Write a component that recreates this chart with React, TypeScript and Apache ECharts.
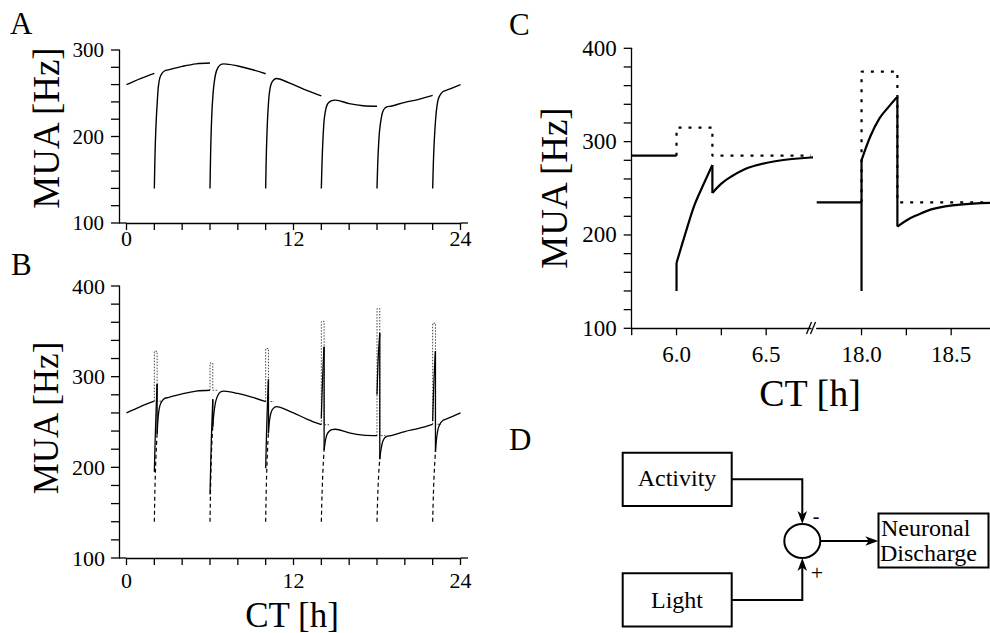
import React, { useEffect, useRef } from "react";
import * as echarts from "echarts";

const FONT = "'Liberation Serif', 'Times New Roman', serif";

// Circadian baseline of the multi-unit activity (CT in hours, MUA in Hz)
const circadianCT = [0, 1, 2, 3, 4, 5, 6, 7, 8, 9, 10, 11, 12, 13, 14, 15, 16, 17, 18, 19, 20, 21, 22, 23, 24];
const circadianMUA = [260, 267, 273, 277, 281, 284, 285, 284, 281.5, 277.5, 272.5, 266.5, 260, 253, 247, 242, 238, 235.5, 235, 236.5, 239.5, 243, 247.5, 253.5, 260];

// Light pulses (onset in CT hours) and the response around each of them
const pulseCT = [2, 6, 10, 14, 18, 22];
const pulseBase = [273, 285, 272.5, 247, 235, 247.5];
const lightTop = [328, 315, 331, 361, 375, 359];

// Hours after pulse onset, during the 0.2 h light pulse
const lightOffsets = [0, 0.05, 0.1, 0.15, 0.2];
// Combined discharge while the light is on
const lightRise = [
  [195, 225, 250, 273, 292],
  [170, 202, 232, 254, 275],
  [199, 230, 257, 279, 297],
  [254, 280, 301, 319, 333],
  [280, 306, 325, 337, 348],
  [251, 277, 298, 315, 328],
];
// Activity-only component while the light is on
const activityDip = [
  [140, 180, 205, 223, 237],
  [140, 185, 213, 232, 245],
  [140, 181, 206, 225, 238],
  [140, 170, 191, 207, 219],
  [140, 167, 186, 200, 209],
  [140, 169, 190, 205, 217],
];
// Hours after pulse onset, recovery after lights-off
const recoveryOffsets = [0.2, 0.25, 0.3, 0.4, 0.55, 0.75, 1.0];
const recovery = [
  [237, 250, 259, 268, 273, 276, 277],
  [245, 255, 262, 272, 279, 283, 284],
  [238, 248, 254, 261, 265, 267, 266.5],
  [219, 225, 230, 236, 239.5, 241.5, 242],
  [209, 215.5, 220.5, 228, 232.5, 234.5, 235],
  [217, 227, 234, 243, 248.5, 252, 253.5],
];

// Axis ranges and label steps
const ctRange = [0, 24];
const ctTickStep = 2;
const ctLabelStep = 12;
const muaTickStep = 20;
const muaLabelStep = 100;
const zoomWindows = [[5.75, 6.75], [17.75, 18.75]];
const zoomPulses = [1, 4];
const zoomTickStep = 0.25;
const zoomLabelStep = 0.5;
const zoomTickValues = [[5.75, 6, 6.25, 6.5], [18, 18.25, 18.5]];

const PULSE_LEN = lightOffsets[lightOffsets.length - 1];
const Y_OFFSET_AB = 7.5;

const curve = (t0: number, offs: number[], vals: number[]) => offs.map((o, k) => [t0 + o, vals[k]]);
const baselineBetween = (from: number, to: number, inclusiveFrom = false) =>
  circadianCT
    .map((t, i) => [t, circadianMUA[i]])
    .filter(([t]) => (inclusiveFrom ? t >= from : t > from) && t <= to);
const steps = (from: number, to: number, step: number) => {
  const out: number[] = [];
  for (let k = 0; from + k * step <= to + 1e-9; k++) out.push(from + k * step);
  return out;
};

type Style = { width: number; type?: any; color?: string; smooth?: boolean; z?: number };
const line = (data: number[][], axis: number, s: Style) => ({
  type: "line",
  xAxisIndex: axis,
  yAxisIndex: axis,
  data,
  symbol: "none",
  showSymbol: false,
  smooth: s.smooth ? 0.35 : false,
  silent: true,
  clip: true,
  z: s.z ?? 2,
  lineStyle: { color: s.color ?? "#000", width: s.width, type: s.type ?? "solid", cap: "butt" },
});

function buildSeries() {
  const out: any[] = [];
  // Panel A: activity-only response
  out.push(line(baselineBetween(0, pulseCT[0], true), 0, { width: 1.4, smooth: true }));
  pulseCT.forEach((t, i) => {
    const next = i + 1 < pulseCT.length ? pulseCT[i + 1] : ctRange[1];
    const data = [
      ...curve(t, lightOffsets, activityDip[i]),
      ...curve(t, recoveryOffsets.slice(1), recovery[i].slice(1)),
      ...baselineBetween(t + 1, next),
    ];
    out.push(line(data, 0, { width: 1.4, smooth: true }));
  });

  // Panel B: combined response, light input (dotted), activity input (dashed)
  out.push(line(baselineBetween(0, pulseCT[0], true), 1, { width: 1.3, smooth: true, z: 3 }));
  pulseCT.forEach((t, i) => {
    const next = i + 1 < pulseCT.length ? pulseCT[i + 1] : ctRange[1];
    const end = t + PULSE_LEN;
    out.push(line(curve(t, lightOffsets, activityDip[i]), 1, { width: 1.2, type: [4, 3], smooth: true, z: 2 }));
    out.push(
      line(
        [[t, pulseBase[i]], [t, lightTop[i]], [end, lightTop[i]], [end, pulseBase[i]], [t + 0.6, pulseBase[i]]],
        1,
        { width: 1, type: [1.5, 1.5], color: "#444", z: 1 }
      )
    );
    out.push(line(curve(t, lightOffsets, lightRise[i]), 1, { width: 1.3, smooth: true, z: 3 }));
    out.push(line([[end, lightRise[i][4]], [end, recovery[i][0]]], 1, { width: 1.3, z: 3 }));
    out.push(
      line(
        [...curve(t, recoveryOffsets, recovery[i]), ...baselineBetween(t + 1, next)],
        1,
        { width: 1.3, smooth: true, z: 3 }
      )
    );
  });

  // Panel C: magnified pulses at CT 6 and CT 18
  zoomPulses.forEach((i, w) => {
    const axis = 2 + w;
    const t = pulseCT[i];
    const end = t + PULSE_LEN;
    const [w0, w1] = zoomWindows[w];
    out.push(line([[w0, pulseBase[i]], [t, pulseBase[i]]], axis, { width: 2.2 }));
    out.push(line([[t, activityDip[i][0]], [t, lightRise[i][0]]], axis, { width: 2.2 }));
    out.push(line(curve(t, lightOffsets, lightRise[i]), axis, { width: 2.2, smooth: true }));
    out.push(line([[end, lightRise[i][4]], [end, recovery[i][0]]], axis, { width: 2.2 }));
    out.push(line(curve(t, recoveryOffsets, recovery[i]), axis, { width: 2.2, smooth: true }));
    out.push(
      line(
        [[t, pulseBase[i]], [t, lightTop[i]], [end, lightTop[i]], [end, pulseBase[i]], [w1, pulseBase[i]]],
        axis,
        { width: 2.2, type: [3, 7], z: 1 }
      )
    );
  });
  return out;
}

const isStep = (v: number, step: number) => Math.abs(v / step - Math.round(v / step)) < 1e-6;

function xAxis(grid: number, min: number, max: number, interval: number, labelStep: number, fontSize: number, margin: number, fmt: (v: number) => string) {
  return {
    type: "value",
    gridIndex: grid,
    min,
    max,
    interval,
    axisLine: { show: true, onZero: false, lineStyle: { color: "#000", width: 1.3 } },
    axisTick: { show: false },
    axisLabel: {
      show: true,
      showMinLabel: true,
      showMaxLabel: true,
      hideOverlap: false,
      color: "#000",
      fontFamily: FONT,
      fontSize,
      margin,
      formatter: (v: number) => (isStep(v, labelStep) ? fmt(v) : ""),
    },
    splitLine: { show: false },
  };
}

function yAxis(grid: number, max: number, fontSize: number, margin: number, offset: number, show = true) {
  return {
    type: "value",
    gridIndex: grid,
    show,
    offset,
    min: 100,
    max,
    interval: muaTickStep,
    axisLine: { show: true, onZero: false, lineStyle: { color: "#000", width: 1.3 } },
    axisTick: { show: false },
    axisLabel: {
      show: true,
      showMinLabel: true,
      showMaxLabel: true,
      hideOverlap: false,
      color: "#000",
      fontFamily: FONT,
      fontSize,
      margin,
      formatter: (v: number) => (isStep(v, muaLabelStep) ? String(v) : ""),
    },
    splitLine: { show: false },
  };
}

const txt = (text: string, x: number, y: number, size: number, extra: any = {}) => ({
  type: "text",
  x,
  y,
  rotation: extra.rotation ?? 0,
  silent: true,
  style: {
    text,
    fill: "#000",
    font: `${size}px ${FONT}`,
    align: extra.align ?? "center",
    verticalAlign: "middle",
  },
});

const stroke = () => ({ stroke: "#000", lineWidth: 2, fill: "none" });
const seg = (x1: number, y1: number, x2: number, y2: number, w = 1.3) => ({
  type: "line",
  silent: true,
  shape: { x1, y1, x2, y2 },
  style: { stroke: "#000", lineWidth: w },
});

function buildGraphic() {
  return [
    // panel letters
    txt("A", 10, 23, 31, { align: "left" }),
    txt("B", 11, 264, 31, { align: "left" }),
    txt("C", 509, 24, 31, { align: "left" }),
    txt("D", 509, 439, 31, { align: "left" }),
    // axis titles
    txt("MUA [Hz]", 46, 128, 37, { rotation: Math.PI / 2 }),
    txt("MUA [Hz]", 46, 418, 35, { rotation: Math.PI / 2 }),
    txt("MUA [Hz]", 554, 188, 37, { rotation: Math.PI / 2 }),
    txt("CT [h]", 292, 615, 35),
    txt("CT [h]", 810, 393, 38),
    // axis break marks
    seg(806.5, 334, 811.5, 322),
    seg(810.5, 334, 815.5, 322),
    // block diagram
    { type: "rect", silent: true, shape: { x: 622.7, y: 452.7, width: 109, height: 53.3 }, style: stroke() },
    { type: "rect", silent: true, shape: { x: 622.7, y: 573.3, width: 109, height: 53.3 }, style: stroke() },
    { type: "rect", silent: true, shape: { x: 878.5, y: 513.5, width: 110, height: 54 }, style: stroke() },
    { type: "ellipse", silent: true, shape: { cx: 802.3, cy: 541, rx: 18, ry: 17 }, style: stroke() },
    { type: "polyline", silent: true, shape: { points: [[731.7, 479.3], [802.3, 479.3], [802.3, 516]] }, style: stroke() },
    { type: "polygon", silent: true, shape: { points: [[802.3, 524], [797.5, 511], [802.3, 514.5], [807.1, 511]] }, style: { fill: "#000" } },
    { type: "polyline", silent: true, shape: { points: [[731.7, 600], [802.3, 600], [802.3, 566]] }, style: stroke() },
    { type: "polygon", silent: true, shape: { points: [[802.3, 558], [797.5, 571], [802.3, 567.5], [807.1, 571]] }, style: { fill: "#000" } },
    { type: "polyline", silent: true, shape: { points: [[820.3, 541], [871, 541]] }, style: stroke() },
    { type: "polygon", silent: true, shape: { points: [[878.3, 541], [865.3, 536.2], [868.8, 541], [865.3, 545.8]] }, style: { fill: "#000" } },
    txt("Activity", 677, 478, 24),
    txt("Light", 677, 600, 24),
    txt("-", 816, 516, 20),
    txt("+", 817, 572, 22),
    txt("Neuronal", 881, 528, 24, { align: "left" }),
    txt("Discharge", 880, 553, 24, { align: "left" }),
  ];
}

// Axis ticks and the short axis-line run-outs, placed through the axes' own scales
function buildTicks(chart: any) {
  const px = (axis: number, v: number) => chart.convertToPixel({ xAxisIndex: axis }, v) as number;
  const py = (axis: number, v: number) => chart.convertToPixel({ yAxisIndex: axis }, v) as number;
  const out: any[] = [];
  [0, 1].forEach((a) => {
    const yMax = a === 0 ? 300 : 400;
    const x0 = px(a, ctRange[0]) - Y_OFFSET_AB;
    const y0 = py(a, 100);
    // x axis line runs from the y axis to just past CT 24
    out.push(seg(x0, y0, px(a, ctRange[0]), y0));
    out.push(seg(px(a, ctRange[1]), y0, px(a, ctRange[1]) + Y_OFFSET_AB, y0));
    steps(ctRange[0], ctRange[1], ctTickStep).forEach((v) => out.push(seg(px(a, v), y0, px(a, v), y0 + 7)));
    steps(100, yMax, muaTickStep).forEach((v) => out.push(seg(x0 - 8, py(a, v), x0, py(a, v))));
  });
  [2, 3].forEach((a, w) => {
    const y0 = py(a, 100);
    zoomTickValues[w].forEach((v) => out.push(seg(px(a, v), y0, px(a, v), y0 + 7)));
  });
  const xc = px(2, zoomWindows[0][0]);
  steps(100, 400, muaTickStep).forEach((v) => out.push(seg(xc - 8, py(2, v), xc, py(2, v))));
  return out;
}

export default function App() {
  const ref = useRef<HTMLDivElement>(null);
  useEffect(() => {
    if (!ref.current) return;
    const chart = echarts.init(ref.current, null, { renderer: "svg", width: 990, height: 633 });
    const fmt0 = (v: number) => String(v);
    const fmt1 = (v: number) => v.toFixed(1);
    chart.setOption({
      animation: false,
      backgroundColor: "#fff",
      grid: [
        { left: 126.5, top: 50, width: 334, height: 173, containLabel: false, outerBoundsMode: "none" },
        { left: 126.5, top: 286, width: 334, height: 272, containLabel: false, outerBoundsMode: "none" },
        { left: 631.7, top: 48.3, width: 179.3, height: 280, containLabel: false, outerBoundsMode: "none" },
        { left: 816.7, top: 48.3, width: 179.3, height: 280, containLabel: false, outerBoundsMode: "none" },
      ],
      xAxis: [
        xAxis(0, ctRange[0], ctRange[1], ctTickStep, ctLabelStep, 22, 4, fmt0),
        xAxis(1, ctRange[0], ctRange[1], ctTickStep, ctLabelStep, 22, 11, fmt0),
        xAxis(2, zoomWindows[0][0], zoomWindows[0][1], zoomTickStep, zoomLabelStep, 23, 15, fmt1),
        xAxis(3, zoomWindows[1][0], zoomWindows[1][1], zoomTickStep, zoomLabelStep, 23, 15, fmt1),
      ],
      yAxis: [
        yAxis(0, 300, 21, 15, Y_OFFSET_AB),
        yAxis(1, 400, 22, 14, Y_OFFSET_AB),
        yAxis(2, 400, 23, 15, 0),
        yAxis(3, 400, 23, 15, 0, false),
      ],
      series: buildSeries(),
    });
    chart.setOption({ graphic: [...buildGraphic(), ...buildTicks(chart)] });
    return () => chart.dispose();
  }, []);
  return (
    <div
      ref={ref}
      style={{ position: "absolute", left: 0, top: 0, width: 990, height: 633, background: "#fff" }}
    />
  );
}
